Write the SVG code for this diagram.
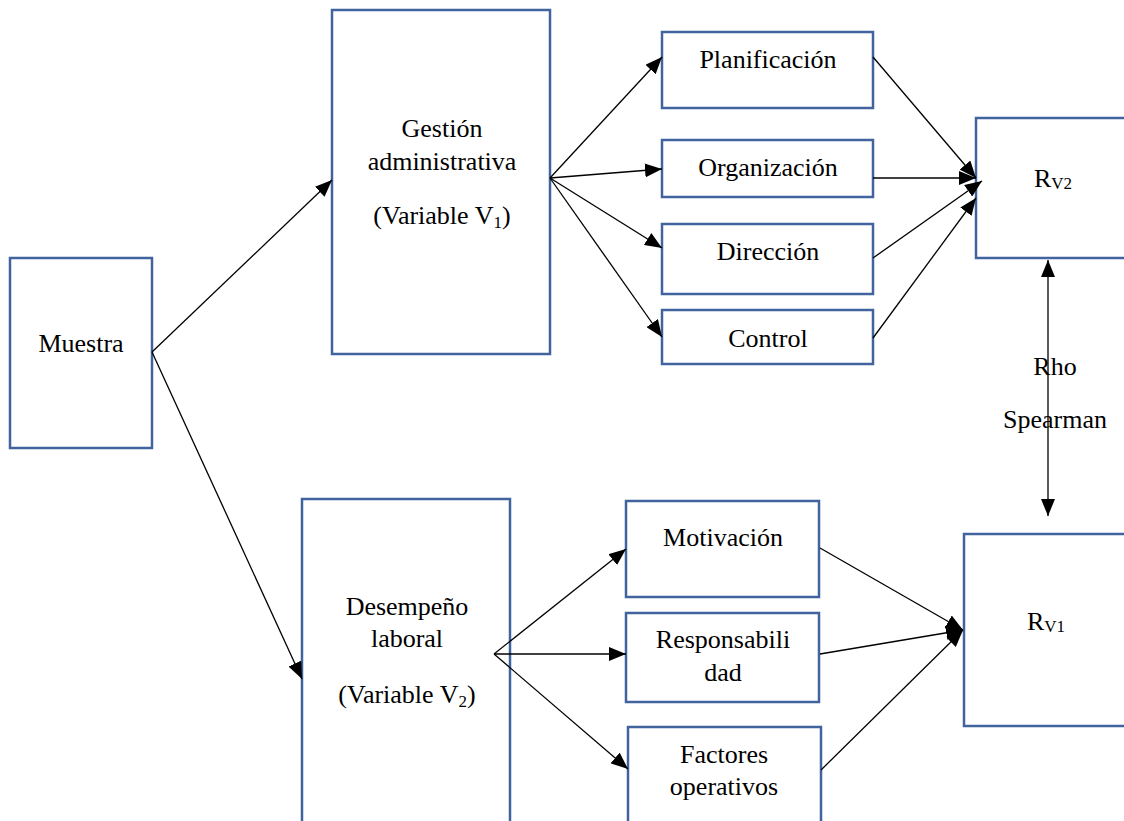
<svg xmlns="http://www.w3.org/2000/svg" width="1124" height="821" viewBox="0 0 1124 821">
<style>
.box{fill:#fff;stroke:#41639E;stroke-width:2.5}
text{font-family:'Liberation Serif','Times New Roman',Times,'DejaVu Serif',serif;font-size:26px;fill:#000}
.t{text-anchor:middle}
.sub{font-size:17px}
.c{fill:none;stroke:#000;stroke-width:1.3}
</style>
<defs>
<marker id="ah" markerUnits="userSpaceOnUse" markerWidth="18" markerHeight="14" refX="17" refY="7" orient="auto-start-reverse" viewBox="0 0 18 14">
<path d="M0,0 L17,7 L0,14 z" fill="#000"/>
</marker>
</defs>
<rect width="1124" height="821" fill="#fff"/>
<g id="muestra">
<rect class="box" x="10" y="258" width="142" height="190"/>
<text class="t" x="81" y="352">Muestra</text>
</g>
<g id="gestion">
<rect class="box" x="332" y="10" width="218" height="344"/>
<text class="t" x="442" y="137">Gestión</text>
<text class="t" x="442" y="170">administrativa</text>
<text class="t" x="442" y="224">(Variable V<tspan class="sub" dy="4">1</tspan><tspan dy="-4">)</tspan></text>
</g>
<g id="planificacion">
<rect class="box" x="662" y="32" width="211" height="76"/>
<text class="t" x="768" y="68">Planificación</text>
</g>
<g id="organizacion">
<rect class="box" x="662" y="140" width="211" height="57"/>
<text class="t" x="768" y="176">Organización</text>
</g>
<g id="direccion">
<rect class="box" x="662" y="224" width="211" height="70"/>
<text class="t" x="768" y="260">Dirección</text>
</g>
<g id="control">
<rect class="box" x="662" y="310" width="211" height="54"/>
<text class="t" x="768" y="347">Control</text>
</g>
<g id="rv2">
<rect class="box" x="976" y="118" width="160" height="140"/>
<text x="1034" y="187">R<tspan class="sub" dy="2">V2</tspan></text>
</g>
<g id="rho">
<text class="t" x="1055" y="375">Rho</text>
<text class="t" x="1055" y="428">Spearman</text>
</g>
<g id="desempeno">
<rect class="box" x="302" y="499" width="208" height="340"/>
<text class="t" x="407" y="615">Desempeño</text>
<text class="t" x="407" y="647">laboral</text>
<text class="t" x="407" y="703">(Variable V<tspan class="sub" dy="4">2</tspan><tspan dy="-4">)</tspan></text>
</g>
<g id="motivacion">
<rect class="box" x="626" y="501" width="193" height="96"/>
<text class="t" x="723" y="546">Motivación</text>
</g>
<g id="responsabilidad">
<rect class="box" x="626" y="613" width="193" height="89"/>
<text class="t" x="723" y="648">Responsabili</text>
<text class="t" x="723" y="681">dad</text>
</g>
<g id="factores">
<rect class="box" x="628" y="727" width="193" height="110"/>
<text class="t" x="724" y="763">Factores</text>
<text class="t" x="724" y="795">operativos</text>
</g>
<g id="rv1">
<rect class="box" x="964" y="534" width="172" height="192"/>
<text x="1027" y="630">R<tspan class="sub" dy="2">V1</tspan></text>
</g>
<g id="connectors">
<path class="c" d="M152,352 L332,180" marker-end="url(#ah)"/>
<path class="c" d="M152,352 L302,679" marker-end="url(#ah)"/>
<path class="c" d="M550,178 L662,57" marker-end="url(#ah)"/>
<path class="c" d="M550,178 L662,169" marker-end="url(#ah)"/>
<path class="c" d="M550,178 L662,248" marker-end="url(#ah)"/>
<path class="c" d="M550,178 L662,337" marker-end="url(#ah)"/>
<path class="c" d="M873,57 L976,178" marker-end="url(#ah)"/>
<path class="c" d="M873,178 L976,178" marker-end="url(#ah)"/>
<path class="c" d="M873,258 L982,181" marker-end="url(#ah)"/>
<path class="c" d="M873,338 L976,198" marker-end="url(#ah)"/>
<path class="c" d="M494,654 L626,549" marker-end="url(#ah)"/>
<path class="c" d="M494,654 L626,654" marker-end="url(#ah)"/>
<path class="c" d="M494,654 L628,769" marker-end="url(#ah)"/>
<path class="c" d="M820,548 L963,630" marker-end="url(#ah)"/>
<path class="c" d="M820,654 L963,630" marker-end="url(#ah)"/>
<path class="c" d="M821,770 L963,630" marker-end="url(#ah)"/>
<path class="c" d="M1048,260 L1048,516" marker-start="url(#ah)" marker-end="url(#ah)"/>
</g>
</svg>
